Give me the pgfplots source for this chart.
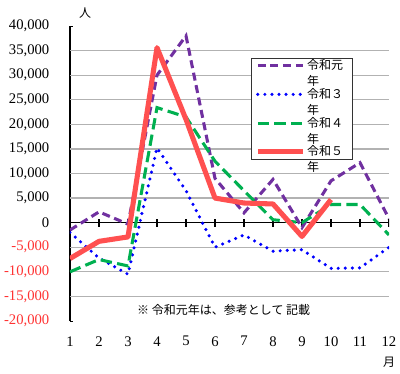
\documentclass[border=0pt]{standalone}
\usepackage{pgfplots}
\pgfplotsset{compat=1.18}
\usepackage{fontspec}
\setmainfont{Liberation Serif}
\newfontfamily\jp{Noto Sans CJK JP}
\definecolor{cpur}{HTML}{7030A0}
\definecolor{cblu}{HTML}{0000FF}
\definecolor{cgrn}{HTML}{00B050}
\definecolor{cred}{HTML}{FF5050}
\definecolor{cneg}{HTML}{FF3333}
\newcommand\lgd[2]{\raisebox{0pt}[\height][0pt]{\parbox[t]{30pt}{\jp\fontsize{9}{12}\selectfont #1\\#2}}}
\newcommand\lgdl[2]{\raisebox{0pt}[\height][10pt]{\parbox[t]{30pt}{\jp\fontsize{9}{12}\selectfont #1\\#2}}}
\begin{document}
\begin{tikzpicture}
\begin{axis}[
  scale only axis, width=239.25pt, height=221.25pt,
  xmin=1, xmax=12, ymin=-20000, ymax=40000,
  scaled y ticks=false,
  axis y line*=left, axis x line*=bottom,
  x axis line style={draw=none},
  xtick={1,...,12},
  xticklabels={1,2,3,4,5,6,7,8,9,10,11,\raisebox{-3pt}{12}},
  major x tick style={draw=none},
  xticklabel style={font=\fontsize{11}{13}\selectfont, yshift=-8pt},
  ytick={-20000,-15000,...,40000},
  yticklabels={{\textcolor{cneg}{-20,000}},{\textcolor{cneg}{-15,000}},{\textcolor{cneg}{-10,000}},{\textcolor{cneg}{-5,000}},0,{5,000},{10,000},{15,000},{20,000},{25,000},{30,000},{35,000},{40,000}},
  yticklabel style={font=\fontsize{11}{13}\selectfont, xshift=-12pt},
  tick align=inside,
  major tick length=2.5pt,
  major y tick style={black, line width=0.6pt},
  y axis line style={black, line width=0.8pt},
  extra y ticks={-15000,-10000,-5000,5000,10000,15000,20000,25000,30000,35000},
  extra y tick labels={},
  extra y tick style={grid=major, major grid style={gray!60, line width=0.9pt}, major tick length=0pt},
  legend style={at={(rel axis cs:0.567,0.892)}, anchor=north west, draw=black!80, line width=0.6pt, fill=white,
    inner xsep=3pt, inner ysep=0pt, row sep=10.5pt, nodes={inner sep=1pt}},
  legend cell align=left,
  legend image code/.code={\draw[#1] (0pt,0pt) -- (34pt,0pt);},
]
\draw[black, line width=1.2pt] (axis cs:1,0) -- (axis cs:12,0);
\pgfplotsinvokeforeach{1,...,12}{\draw[black, line width=0.8pt] ([yshift=-3pt]axis cs:#1,0) -- ([yshift=3pt]axis cs:#1,0);}
\node[font=\jp\fontsize{9}{11}\selectfont] at (axis cs:6.3,-17700) {※ 令和元年は、参考として 記載};

\addplot[cpur, line width=2.3pt, dash pattern=on 6pt off 3.5pt] coordinates {
(1,-1500) (2,2200) (3,-300) (4,30000) (5,38000) (6,9000) (7,2000) (8,8800) (9,-1000) (10,8500) (11,12200) (12,800)};
\addlegendentry{\lgd{令和元}{年}}
\addplot[cblu, line width=2.6pt, line cap=round, dash pattern=on 0pt off 5.3pt] coordinates {
(1,-2000) (2,-7200) (3,-10500) (4,15200) (5,6500) (6,-5000) (7,-2500) (8,-5800) (9,-5500) (10,-9300) (11,-9200) (12,-5000)};
\addlegendentry{\lgd{令和３}{年}}
\addplot[cgrn, line width=2.3pt, dash pattern=on 8.5pt off 4pt] coordinates {
(1,-10000) (2,-7500) (3,-8800) (4,23400) (5,21500) (6,12500) (7,6500) (8,600) (9,0) (10,3700) (11,3700) (12,-2500)};
\addlegendentry{\lgd{令和４}{年}}
\addplot[cred, line width=3.8pt, line join=round] coordinates {
(1,-7300) (2,-3800) (3,-2900) (4,35600) (5,21000) (6,5000) (7,4000) (8,3800) (9,-2800) (10,4700)};
\addlegendentry{\lgdl{令和５}{年}}
\end{axis}
\node[font=\jp\fontsize{9}{11}\selectfont] at ([shift={(11.25pt,9.75pt)}]current axis.north west) {人};
\node[font=\jp\fontsize{9}{11}\selectfont] at ([shift={(0pt,-30.75pt)}]current axis.south east) {月};
\pgfresetboundingbox
\useasboundingbox ([shift={(-52.5pt,-39.75pt)}]current axis.south west) rectangle ([shift={(8.25pt,19.5pt)}]current axis.north east);
\end{tikzpicture}
\end{document}
